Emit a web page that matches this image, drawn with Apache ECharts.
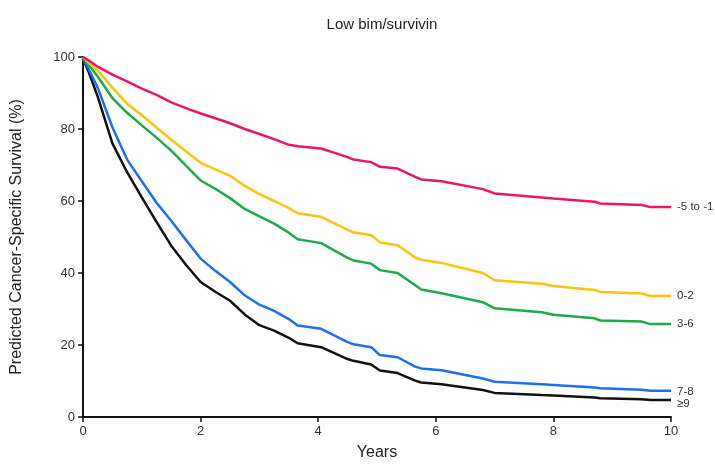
<!DOCTYPE html>
<html>
<head>
<meta charset="utf-8">
<script src="https://cdn.jsdelivr.net/npm/echarts@6/dist/echarts.min.js"></script>
<style>html,body{margin:0;padding:0;background:#fff}#c{width:715px;height:466px}</style>
</head>
<body>
<div id="c"></div>
<script>
var years = [0, 0.1, 0.25, 0.5, 0.75, 1, 1.25, 1.5, 1.75, 2, 2.25, 2.5, 2.75, 3, 3.25, 3.5, 3.65, 4.05, 4.5, 4.6, 4.9, 5.05, 5.35, 5.65, 5.75, 6.1, 6.8, 7.0, 7.8, 8.0, 8.7, 8.8, 9.5, 9.65, 10];
var seriesNames = ['-5 to -1', '0-2', '3-6', '7-8', '\u22659'];
var pinkVals = [100, 99, 97.3, 95.1, 93.2, 91.2, 89.5, 87.4, 85.8, 84.3, 83, 81.6, 80, 78.6, 77.2, 75.6, 75.2, 74.6, 72.2, 71.5, 70.8, 69.5, 69, 66.7, 66, 65.5, 63.3, 62.1, 61, 60.7, 59.8, 59.3, 58.9, 58.3, 58.3];
var yellowVals = [100, 98.4, 96.2, 91.5, 87, 83.8, 80.4, 77, 73.8, 70.6, 68.8, 67, 64.2, 61.9, 60, 58, 56.6, 55.6, 52, 51.3, 50.5, 48.5, 47.7, 44.3, 43.7, 42.8, 40, 38, 37, 36.4, 35.3, 34.7, 34.3, 33.6, 33.6];
var greenVals = [100, 97.8, 94.6, 88.6, 84.5, 81, 77.6, 74, 69.8, 65.7, 63.4, 60.8, 57.8, 55.7, 53.7, 51.2, 49.4, 48.3, 44.2, 43.5, 42.6, 40.8, 40, 36.6, 35.4, 34.4, 31.9, 30.2, 29.1, 28.4, 27.4, 26.8, 26.5, 25.8, 25.8];
var blueVals = [99.5, 96.5, 91.5, 80.5, 71.5, 65.5, 59.5, 54.5, 49.2, 44, 40.6, 37.5, 33.8, 31.2, 29.5, 27.2, 25.4, 24.5, 20.8, 20.2, 19.4, 17.2, 16.6, 14, 13.5, 13, 10.7, 9.8, 9.1, 8.9, 8.2, 8.0, 7.6, 7.3, 7.3];
var blackVals = [99.5, 95.7, 89, 76, 68, 61, 54.2, 47.6, 42.3, 37.5, 34.8, 32.3, 28.5, 25.5, 24, 22, 20.5, 19.4, 16.1, 15.6, 14.6, 12.9, 12.2, 10.1, 9.6, 9.1, 7.5, 6.7, 6.1, 6.0, 5.4, 5.2, 4.9, 4.7, 4.7];

var allVals = [pinkVals, yellowVals, greenVals, blueVals, blackVals];
var colors = ['#E8176C', '#FFC20E', '#1EAA4A', '#1E6EF0', '#111111'];
var labelOffsets = [[0, 0], [0, 0], [0, 0], [0, 1], [0, 4]];

function pairs(vals) {
  return years.map(function (t, i) { return [t, vals[i]]; });
}

var chart = echarts.init(document.getElementById('c'));
var font = 'Liberation Sans, Arial, sans-serif';
chart.setOption({
  animation: false,
  backgroundColor: '#fff',
  title: {
    text: 'Low bim/survivin',
    left: 377, top: 12, textAlign: 'center',
    textStyle: { fontFamily: font, fontSize: 15, fontWeight: 'normal', color: '#222' }
  },
  grid: { left: 83, right: 44, top: 57, bottom: 49 },
  xAxis: {
    type: 'value', min: 0, max: 10, interval: 2,
    name: 'Years', nameLocation: 'middle', nameGap: 28,
    nameTextStyle: { fontFamily: font, fontSize: 16, color: '#222' },
    axisLine: { show: true, lineStyle: { color: '#111', width: 2 } },
    axisTick: { show: true, length: 5, lineStyle: { color: '#111', width: 1.5 } },
    axisLabel: { fontFamily: font, fontSize: 13, color: '#333', margin: 8 },
    splitLine: { show: false }
  },
  yAxis: {
    type: 'value', min: 0, max: 100, interval: 20,
    name: 'Predicted Cancer-Specific Survival (%)', nameLocation: 'middle', nameGap: 58,
    nameTextStyle: { fontFamily: font, fontSize: 16, color: '#222' },
    axisLine: { show: true, lineStyle: { color: '#111', width: 2 } },
    axisTick: { show: true, length: 5, lineStyle: { color: '#111', width: 1.5 } },
    axisLabel: { fontFamily: font, fontSize: 13, color: '#333', margin: 8 },
    splitLine: { show: false }
  },
  series: allVals.map(function (vals, i) {
    return {
      name: seriesNames[i],
      type: 'line',
      data: pairs(vals),
      showSymbol: false,
      smooth: false,
      lineStyle: { color: colors[i], width: 2.5 },
      itemStyle: { color: colors[i] },
      endLabel: {
        show: true,
        formatter: seriesNames[i],
        distance: 6,
        offset: labelOffsets[i],
        fontFamily: font, fontSize: 11.5, color: '#333'
      },
      z: 10 - i
    };
  })
});
</script>
</body>
</html>
